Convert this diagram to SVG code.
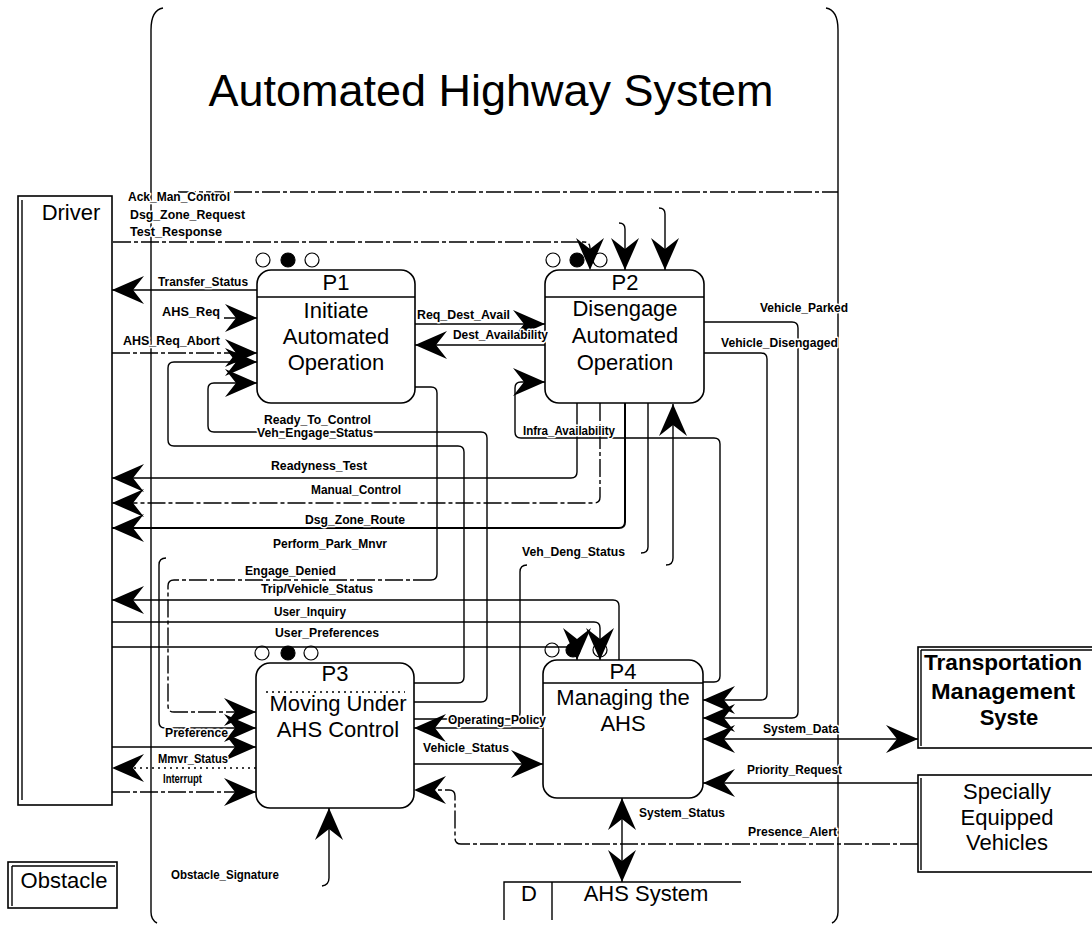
<svg xmlns="http://www.w3.org/2000/svg" width="1092" height="927" viewBox="0 0 1092 927">
<defs>
<marker id="ah" viewBox="-33 -15 34 30" refX="0" refY="0" markerWidth="34" markerHeight="30" markerUnits="userSpaceOnUse" orient="auto-start-reverse">
<path d="M0,0 L-32,-14 L-21,0 L-32,14 Z" fill="#000"/>
</marker>
</defs>
<style>
.ln{fill:none;stroke:#000;stroke-width:1.4}
.ds{stroke-dasharray:18 3 4 3}
.dt{stroke-dasharray:2 4}
.bx{fill:#fff;stroke:#000;stroke-width:1.6}
.lb{font-family:"Liberation Sans",Arial,sans-serif;font-size:12px;font-weight:bold;fill:#000;stroke:#fff;stroke-width:3;paint-order:stroke;stroke-linejoin:round}
.nt{font-family:"Liberation Sans",Arial,sans-serif;font-size:22px;fill:#000;text-anchor:middle}
.ci{fill:#fff;stroke:#000;stroke-width:1.2}
.cf{fill:#000;stroke:#000;stroke-width:1.2}
</style>
<rect width="1092" height="927" fill="#fff"/>

<g id="container">
<path class="ln" d="M151 912 V30 Q151 10 163 8"/>
<path class="ln" d="M151 912 Q151 920 157 923"/>
<path class="ln" d="M826 8 Q838 10 838 30 V912 Q838 920 832 923"/>
<path class="ln ds" d="M178 192 H838"/>
<text x="491" y="106" font-family="Liberation Sans,Arial,sans-serif" font-size="45" text-anchor="middle" textLength="565" lengthAdjust="spacingAndGlyphs">Automated Highway System</text>
</g>

<g id="driver">
<rect class="bx" x="18" y="196" width="94" height="609"/>
<line class="ln" x1="22" y1="200" x2="22" y2="800"/>
<text class="nt" x="71" y="220" font-size="21">Driver</text>
</g>

<g id="obstacle">
<rect class="bx" x="8" y="862" width="109" height="46"/>
<line class="ln" x1="12" y1="866" x2="12" y2="906"/>
<line class="ln" x1="12" y1="866" x2="115" y2="866"/>
<text class="nt" x="64" y="888" font-size="21">Obstacle</text>
</g>

<g id="tms">
<rect class="bx" x="918" y="647" width="190" height="101"/>
<line class="ln" x1="921" y1="650" x2="921" y2="746"/>
<line class="ln" x1="921" y1="650" x2="1092" y2="650"/>
<text class="nt" x="1003" y="670" font-weight="bold" textLength="158" lengthAdjust="spacingAndGlyphs">Transportation</text>
<text class="nt" x="1003" y="699" font-weight="bold" textLength="144" lengthAdjust="spacingAndGlyphs">Management</text>
<text class="nt" x="1009" y="725" font-weight="bold">Syste</text>
</g>

<g id="sev">
<rect class="bx" x="918" y="775" width="190" height="97"/>
<line class="ln" x1="921" y1="778" x2="921" y2="870"/>
<text class="nt" x="1007" y="799">Specially</text>
<text class="nt" x="1007" y="825">Equipped</text>
<text class="nt" x="1007" y="850">Vehicles</text>
</g>

<g id="p1">
<circle class="ci" cx="263" cy="260" r="7"/>
<circle class="cf" cx="288" cy="260" r="7"/>
<circle class="ci" cx="312" cy="260" r="7"/>
<rect class="bx" x="257" y="270" width="158" height="133" rx="14"/>
<line class="ln" x1="257" y1="297" x2="415" y2="297"/>
<text class="nt" x="336" y="290">P1</text>
<text class="nt" x="336" y="318">Initiate</text>
<text class="nt" x="336" y="344">Automated</text>
<text class="nt" x="336" y="370">Operation</text>
</g>

<g id="p2">
<circle class="ci" cx="553" cy="260" r="7"/>
<circle class="cf" cx="577" cy="260" r="7"/>
<circle class="ci" cx="600" cy="260" r="7"/>
<rect class="bx" x="545" y="270" width="159" height="133" rx="14"/>
<line class="ln" x1="545" y1="297" x2="704" y2="297"/>
<text class="nt" x="625" y="290">P2</text>
<text class="nt" x="625" y="316">Disengage</text>
<text class="nt" x="625" y="343">Automated</text>
<text class="nt" x="625" y="370">Operation</text>
</g>

<g id="p3">
<circle class="ci" cx="262" cy="653" r="7"/>
<circle class="cf" cx="288" cy="653" r="7"/>
<circle class="ci" cx="311" cy="653" r="7"/>
<rect class="bx" x="256" y="663" width="158" height="145" rx="14"/>
<line class="ln dt" x1="266" y1="692" x2="405" y2="692" stroke-width="1"/>
<text class="nt" x="335" y="681">P3</text>
<text class="nt" x="338" y="711">Moving Under</text>
<text class="nt" x="338" y="737">AHS Control</text>
</g>

<g id="p4">
<circle class="ci" cx="552" cy="650" r="7"/>
<circle class="cf" cx="573" cy="650" r="7"/>
<circle class="ci" cx="600" cy="650" r="7"/>
<rect class="bx" x="543" y="660" width="160" height="138" rx="14"/>
<line class="ln" x1="543" y1="683" x2="703" y2="683"/>
<text class="nt" x="623" y="679">P4</text>
<text class="nt" x="623" y="705">Managing the</text>
<text class="nt" x="623" y="731">AHS</text>
</g>

<g id="store">
<path class="ln" d="M504 920 V882 H741 M552 882 V920"/>
<text class="nt" x="529" y="901">D</text>
<text class="nt" x="646" y="901">AHS System</text>
</g>

<g id="connectors" class="ln">
<path class="ds" d="M113 242 H584 Q590 242 590 248 V270" marker-end="url(#ah)"/>
<path d="M619 223 Q625 223 625 229 V270" marker-end="url(#ah)"/>
<path d="M659 208 Q665 208 665 214 V270" marker-end="url(#ah)"/>
<path d="M257 290 H112" marker-end="url(#ah)"/>
<path d="M224 318 H257" marker-end="url(#ah)"/>
<path class="ds" d="M112 353 H257" marker-end="url(#ah)"/>
<path d="M414 683 H458 Q464 683 464 677 V452 Q464 446 458 446 H174 Q168 446 168 440 V368 Q168 362 174 362 H257" marker-end="url(#ah)"/>
<path d="M414 702 H481 Q487 702 487 696 V438 Q487 432 481 432 H214 Q208 432 208 426 V389 Q208 383 214 383 H257" marker-end="url(#ah)"/>
<path d="M415 324 H545" marker-end="url(#ah)"/>
<path d="M545 345 H415" marker-end="url(#ah)"/>
<path d="M415 387 H431 Q437 387 437 393 V574 Q437 580 431 580" />
<path class="ds" d="M431 580 H174 Q168 580 168 586 V706 Q168 712 174 712 H256" marker-end="url(#ah)"/>
<path d="M166 558 Q159 558 159 565 V722 Q159 728 165 728 H256" marker-end="url(#ah)"/>
<path d="M577 403 V472 Q577 478 571 478 H112" marker-end="url(#ah)"/>
<path class="ds" d="M600 403 V497 Q600 503 594 503 H112" marker-end="url(#ah)"/>
<path stroke-width="2" d="M625 403 V522 Q625 528 619 528 H112" marker-end="url(#ah)"/>
<path d="M648 403 V547 Q648 553 641 553"/>
<path d="M414 719 H514 Q520 719 520 713 V572 Q520 565 527 565"/>
<path d="M666 565 Q673 565 673 558 V404" marker-end="url(#ah)"/>
<path d="M703 682 H714 Q720 682 720 676 V444 Q720 438 714 438 H521 Q515 438 515 432 V388 Q515 382 521 382 H545" marker-end="url(#ah)"/>
<path d="M704 322 H792 Q798 322 798 328 V712 Q798 718 792 718 H703" marker-end="url(#ah)"/>
<path d="M704 353 H761 Q767 353 767 359 V694 Q767 700 761 700 H703" marker-end="url(#ah)"/>
<path d="M703 739 H918" marker-start="url(#ah)" marker-end="url(#ah)"/>
<path d="M918 783 H703" marker-end="url(#ah)"/>
<path class="ds" d="M918 844 H461 Q455 844 455 838 V796 Q455 790 449 790 H414" marker-end="url(#ah)"/>
<path d="M622 798 V882" marker-start="url(#ah)" marker-end="url(#ah)"/>
<path d="M543 728 H414" marker-end="url(#ah)"/>
<path d="M414 764 H543" marker-end="url(#ah)"/>
<path d="M619 660 V606 Q619 600 613 600 H112" marker-end="url(#ah)"/>
<path d="M112 622 H594 Q600 622 600 628 V660" marker-end="url(#ah)"/>
<path d="M112 647 H571 Q577 647 577 653 V660" marker-end="url(#ah)"/>
<path d="M112 747 H256" marker-end="url(#ah)"/>
<path class="dt" d="M256 768 H112" marker-end="url(#ah)"/>
<path class="ds" d="M112 792 H256" marker-end="url(#ah)"/>
<path d="M322 886 Q329 885 329 878 V808" marker-end="url(#ah)"/>
</g>

<g id="labels">
<text class="lb" x="128" y="201" textLength="102" lengthAdjust="spacingAndGlyphs">Ack_Man_Control</text>
<text class="lb" x="130" y="219" textLength="115" lengthAdjust="spacingAndGlyphs">Dsg_Zone_Request</text>
<text class="lb" x="130" y="236" textLength="92" lengthAdjust="spacingAndGlyphs">Test_Response</text>
<text class="lb" x="158" y="286" textLength="90" lengthAdjust="spacingAndGlyphs">Transfer_Status</text>
<text class="lb" x="162" y="316" textLength="58" lengthAdjust="spacingAndGlyphs">AHS_Req</text>
<text class="lb" x="123" y="345" textLength="97" lengthAdjust="spacingAndGlyphs">AHS_Req_Abort</text>
<text class="lb" x="417" y="319" textLength="93" lengthAdjust="spacingAndGlyphs">Req_Dest_Avail</text>
<text class="lb" x="453" y="339" textLength="95" lengthAdjust="spacingAndGlyphs">Dest_Availability</text>
<text class="lb" x="760" y="312" textLength="88" lengthAdjust="spacingAndGlyphs">Vehicle_Parked</text>
<text class="lb" x="721" y="347" textLength="117" lengthAdjust="spacingAndGlyphs">Vehicle_Disengaged</text>
<text class="lb" x="264" y="424" textLength="107" lengthAdjust="spacingAndGlyphs">Ready_To_Control</text>
<text class="lb" x="257" y="437" textLength="116" lengthAdjust="spacingAndGlyphs">Veh_Engage_Status</text>
<text class="lb" x="523" y="435" textLength="92" lengthAdjust="spacingAndGlyphs">Infra_Availability</text>
<text class="lb" x="271" y="470" textLength="96" lengthAdjust="spacingAndGlyphs">Readyness_Test</text>
<text class="lb" x="311" y="494" textLength="90" lengthAdjust="spacingAndGlyphs">Manual_Control</text>
<text class="lb" x="305" y="524" textLength="100" lengthAdjust="spacingAndGlyphs">Dsg_Zone_Route</text>
<text class="lb" x="273" y="548" textLength="114" lengthAdjust="spacingAndGlyphs">Perform_Park_Mnvr</text>
<text class="lb" x="245" y="575" textLength="91" lengthAdjust="spacingAndGlyphs">Engage_Denied</text>
<text class="lb" x="261" y="593" textLength="112" lengthAdjust="spacingAndGlyphs">Trip/Vehicle_Status</text>
<text class="lb" x="274" y="616" textLength="72" lengthAdjust="spacingAndGlyphs">User_Inquiry</text>
<text class="lb" x="275" y="637" textLength="104" lengthAdjust="spacingAndGlyphs">User_Preferences</text>
<text class="lb" x="522" y="556" textLength="103" lengthAdjust="spacingAndGlyphs">Veh_Deng_Status</text>
<text class="lb" x="165" y="737" textLength="63" lengthAdjust="spacingAndGlyphs">Preference</text>
<text class="lb" x="158" y="763" textLength="70" lengthAdjust="spacingAndGlyphs">Mmvr_Status</text>
<text class="lb" x="163" y="783" textLength="39" lengthAdjust="spacingAndGlyphs">Interrupt</text>
<text class="lb" x="448" y="724" textLength="98" lengthAdjust="spacingAndGlyphs">Operating_Policy</text>
<text class="lb" x="423" y="752" textLength="86" lengthAdjust="spacingAndGlyphs">Vehicle_Status</text>
<text class="lb" x="763" y="733" textLength="76" lengthAdjust="spacingAndGlyphs">System_Data</text>
<text class="lb" x="747" y="774" textLength="95" lengthAdjust="spacingAndGlyphs">Priority_Request</text>
<text class="lb" x="639" y="817" textLength="86" lengthAdjust="spacingAndGlyphs">System_Status</text>
<text class="lb" x="748" y="836" textLength="89" lengthAdjust="spacingAndGlyphs">Presence_Alert</text>
<text class="lb" x="171" y="879" font-size="10" textLength="108" lengthAdjust="spacingAndGlyphs">Obstacle_Signature</text>
</g>
</svg>
